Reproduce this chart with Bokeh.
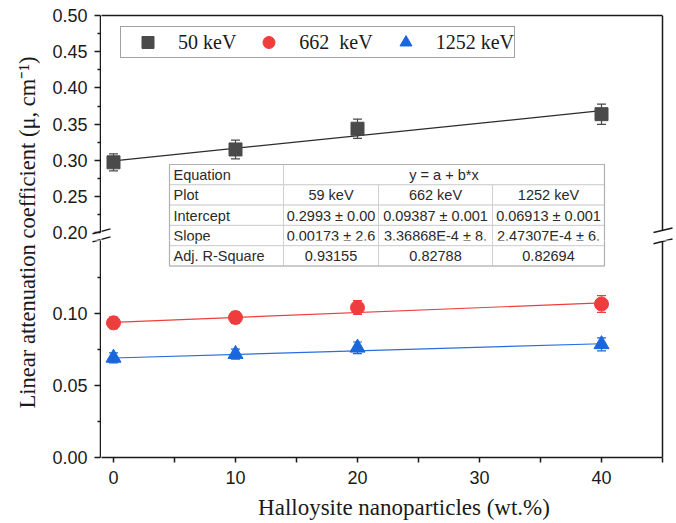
import math
from bokeh.plotting import figure
from bokeh.models import (Range1d, LinearAxis, FixedTicker, NumeralTickFormatter, Whisker,
                          TeeHead, ColumnDataSource, Legend, LegendItem)
from bokeh.core.properties import value
from bokeh.layouts import row, column
from bokeh.embed import file_html
from bokeh.resources import INLINE

# ---------------- data ----------------
x_wt = [0, 10, 20, 40]
mu_50 = [0.2972, 0.3150, 0.3436, 0.3637]
err_50 = [0.0118, 0.0130, 0.0133, 0.0140]
mu_662 = [0.0935, 0.0972, 0.1041, 0.1066]
err_662 = [0.0040, 0.0040, 0.0048, 0.0058]
mu_1252 = [0.0692, 0.0718, 0.0762, 0.0786]
err_1252 = [0.0035, 0.0035, 0.0040, 0.0045]

fit_x = [0, 40]
fit_50 = [0.2993, 0.3685]
fit_662 = [0.0939, 0.1074]
fit_1252 = [0.0691, 0.0790]

series_labels = ["50 keV", "662  keV", "1252 keV"]

x_ticks = [0, 10, 20, 30, 40]
x_minor = [5, 15, 25, 35, 45]
y_ticks_upper = [0.20, 0.25, 0.30, 0.35, 0.40, 0.45, 0.50]
y_minor_upper = [0.225, 0.275, 0.325, 0.375, 0.425, 0.475]
y_ticks_lower = [0.00, 0.05, 0.10]
y_minor_lower = [0.025, 0.075, 0.125]

x_label = "Halloysite nanoparticles (wt.%)"
y_label = "Linear attenuation coefficient (\u03bc, cm\u207b\u00b9)"

table_head = ["Equation", "y = a + b*x"]
table_names = ["Plot", "Intercept", "Slope", "Adj. R-Square"]
table_plot = ["59 keV", "662 keV", "1252 keV"]
table_intercept = ["0.2993 \u00b1 0.00", "0.09387 \u00b1 0.001", "0.06913 \u00b1 0.001"]
table_slope = ["0.00173 \u00b1 2.6", "3.36868E-4 \u00b1 8.", "2.47307E-4 \u00b1 6."]
table_r2 = ["0.93155", "0.82788", "0.82694"]

# ---------------- layout ----------------
W, H = 676, 523
TITLE_W = 40          # strip with the y-axis title
AXIS_PX = 100         # page x of the left axis line
STRIP_R = 101         # right edge of the y-axis strip
XL_H = 28             # strip with the x-axis title
X0_PX, PXU = 113.0, 12.2
AXIS_R_PX = 662
FRAME_T, BREAK_Y, FRAME_B = 15, 240, 457
LO_BOTTOM = H - XL_H
UP_END, UP_PX = 0.5, 724.0
UP_START = UP_END - (BREAK_Y - FRAME_T) / UP_PX
LO_PX = 1440.0
LO_END = (FRAME_B - BREAK_Y) / LO_PX

GRAY, RED, BLUE = "#4a4a4a", "#ef3d3d", "#1a66dd"
INK = "#1a1a1a"


def px_x(px):
    return (px - X0_PX) / PXU


def up_y(py):
    return UP_END - (py - FRAME_T) / UP_PX


def lo_y(py):
    return (FRAME_B - py) / LO_PX


def ident(v):
    return v


AX_L, AX_R = px_x(AXIS_PX), px_x(AXIS_R_PX)
up_range = Range1d(UP_START, UP_END)
lo_range = Range1d(0.0, LO_END)


def bare(p):
    p.outline_line_color = None
    p.grid.visible = False
    p.background_fill_color = "white"
    p.border_fill_color = "white"
    return p


def make_main(height, yr, top, bottom, with_x):
    p = figure(width=W - STRIP_R, height=height,
               x_range=Range1d(px_x(STRIP_R), px_x(W)), y_range=yr,
               output_backend="svg", toolbar_location=None,
               x_axis_location="below" if with_x else None, y_axis_location=None,
               min_border_left=0, min_border_right=0,
               min_border_top=top, min_border_bottom=bottom)
    return bare(p)


def make_strip(height, yr, top, bottom, ticks, minor):
    # narrow figure whose right edge carries the y axis; labels are pulled back inside
    p = figure(width=STRIP_R - TITLE_W, height=height,
               x_range=Range1d(TITLE_W, AXIS_PX), y_range=yr,
               output_backend="svg", toolbar_location=None,
               x_axis_location=None, y_axis_location="right",
               min_border_left=0, min_border_right=STRIP_R - AXIS_PX,
               min_border_top=top, min_border_bottom=bottom)
    bare(p)
    ax = p.yaxis[0]
    ax.ticker = FixedTicker(ticks=ticks, minor_ticks=minor)
    ax.formatter = NumeralTickFormatter(format="0.00")
    ax.axis_line_color = INK
    ax.axis_line_width = 1.5
    ax.major_tick_line_color = INK
    ax.minor_tick_line_color = INK
    ax.major_tick_line_width = 1.5
    ax.minor_tick_line_width = 1.5
    ax.major_tick_out = 0
    ax.major_tick_in = 6
    ax.minor_tick_out = 0
    ax.minor_tick_in = 3
    ax.major_label_text_font = "Liberation Sans"
    ax.major_label_text_font_size = "18px"
    ax.major_label_text_color = INK
    ax.major_label_standoff = -48
    return p


def line_axis(bounds=None):
    ax = LinearAxis(ticker=FixedTicker(ticks=[]), major_tick_out=0, major_tick_in=0,
                    minor_tick_out=0, minor_tick_in=0, major_label_standoff=0,
                    axis_line_color=INK, axis_line_width=1.5,
                    major_label_text_font_size="0px")
    if bounds is not None:
        ax.bounds = bounds
    return ax


# axis-break marks, page pixels ((x0, y0), (x1, y1)); each figure clips its own part
BREAK_MARKS = [((92, 233.2), (110, 228.4)), ((92, 241.2), (110, 236.4)),
               ((653, 232.0), (672, 227.4)), ((653, 243.2), (672, 238.4))]


def break_marks(p, xmap, ymap):
    p.segment(x0=[xmap(a[0]) for a, b in BREAK_MARKS], y0=[ymap(a[1]) for a, b in BREAK_MARKS],
              x1=[xmap(b[0]) for a, b in BREAK_MARKS], y1=[ymap(b[1]) for a, b in BREAK_MARKS],
              line_color=INK, line_width=1.5)


def frame_right(p, y0, y1):
    p.segment(x0=[AX_R], y0=[y0], x1=[AX_R], y1=[y1], line_color=INK, line_width=1.5)


def draw_table(p, ymap):
    cols = [169, 283, 378, 492, 604]
    rows = [164 + i * 20.3 for i in range(6)]
    L, R, T, B = [], [], [], []
    L += [cols[0], cols[1]]
    R += [cols[1], cols[4]]
    T += [ymap(rows[0])] * 2
    B += [ymap(rows[1])] * 2
    for r in range(1, 5):
        for c in range(4):
            L.append(cols[c]); R.append(cols[c + 1])
            T.append(ymap(rows[r])); B.append(ymap(rows[r + 1]))
    p.quad(left=[px_x(v) for v in L], right=[px_x(v) for v in R], top=T, bottom=B,
           fill_color="white", line_color="#cfcfcf", line_width=1)
    p.quad(left=[px_x(cols[0])], right=[px_x(cols[4])], top=[ymap(rows[0])],
           bottom=[ymap(rows[5])], fill_color=None, line_color="#b0b0b0", line_width=1.2)
    mids = [(rows[i] + rows[i + 1]) / 2 + 0.5 for i in range(5)]
    p.text(x=[px_x(cols[0] + 4)] * 5, y=[ymap(m) for m in mids],
           text=[table_head[0]] + table_names,
           text_font=value("Liberation Sans"), text_font_size="14.5px", text_color="#2a2a2a",
           text_align="left", text_baseline="middle")
    cx, cy, ct = [px_x((cols[1] + cols[4]) / 2)], [ymap(mids[0])], [table_head[1]]
    for r, vals in enumerate([table_plot, table_intercept, table_slope, table_r2], start=1):
        for c in range(3):
            cx.append(px_x((cols[c + 1] + cols[c + 2]) / 2))
            cy.append(ymap(mids[r]))
            ct.append(vals[c])
    p.text(x=cx, y=cy, text=ct, text_font=value("Liberation Sans"), text_font_size="14.5px",
           text_color="#2a2a2a", text_align="center", text_baseline="middle")


def add_series(p, y, err, fit, color, line_color, marker, size):
    p.line(fit_x, fit, color=line_color, line_width=1.2)
    src = ColumnDataSource(dict(x=x_wt, upper=[a + e for a, e in zip(y, err)],
                                lower=[a - e for a, e in zip(y, err)]))
    p.add_layout(Whisker(source=src, base="x", upper="upper", lower="lower",
                         dimension="height", line_color=color, line_width=1.2,
                         upper_head=TeeHead(size=9, line_color=color, line_width=1.2),
                         lower_head=TeeHead(size=9, line_color=color, line_width=1.2)))
    return p.scatter(x_wt, y, marker=marker, size=size, fill_color=color, line_color=color)


# ---------------- upper panel ----------------
ax_up = make_strip(BREAK_Y, up_range, FRAME_T, 0, y_ticks_upper, y_minor_upper)
ax_up.yaxis[0].bounds = (0.2, 0.5)
break_marks(ax_up, ident, up_y)

p_up = make_main(BREAK_Y, up_range, FRAME_T, 0, False)
p_up.add_layout(line_axis((AX_L, AX_R)), "above")
frame_right(p_up, up_y(229.8), UP_END)
draw_table(p_up, up_y)
r50 = add_series(p_up, mu_50, err_50, fit_50, GRAY, "#2b2b2b", "square", 13)
# legend proxies (their values lie outside this panel's range, so they stay hidden)
proxy_662 = p_up.scatter(x_wt, mu_662, marker="circle", size=14, fill_color=RED, line_color=RED)
proxy_1252 = p_up.scatter(x_wt, mu_1252, marker="triangle", size=15, fill_color=BLUE, line_color=BLUE)
legend = Legend(items=[LegendItem(label=series_labels[0], renderers=[r50]),
                       LegendItem(label=series_labels[1], renderers=[proxy_662]),
                       LegendItem(label=series_labels[2], renderers=[proxy_1252])],
                orientation="horizontal", location=(120 - STRIP_R, BREAK_Y - 58),
                padding=0, margin=0,
                glyph_width=53, glyph_height=30, label_standoff=4, spacing=6,
                border_line_color="#444444", border_line_width=1,
                background_fill_color="white", background_fill_alpha=1,
                label_text_font="Liberation Serif", label_text_font_size="20px",
                label_text_color=INK)
p_up.add_layout(legend)
break_marks(p_up, px_x, up_y)

# ---------------- lower panel ----------------
ax_lo = make_strip(LO_BOTTOM - BREAK_Y, lo_range, 0, LO_BOTTOM - FRAME_B,
                   y_ticks_lower, y_minor_lower)
ax_lo.yaxis[0].bounds = (0.0, lo_y(238.8))
break_marks(ax_lo, ident, lo_y)

p_lo = make_main(LO_BOTTOM - BREAK_Y, lo_range, 0, LO_BOTTOM - FRAME_B, True)
xa = p_lo.xaxis[0]
xa.ticker = FixedTicker(ticks=x_ticks, minor_ticks=x_minor)
xa.bounds = (AX_L, AX_R)
xa.axis_line_color = INK
xa.axis_line_width = 1.5
xa.major_tick_line_color = INK
xa.minor_tick_line_color = INK
xa.major_tick_line_width = 1.5
xa.minor_tick_line_width = 1.5
xa.major_tick_out = 5
xa.major_tick_in = 0
xa.minor_tick_out = 5
xa.minor_tick_in = 0
xa.major_label_text_font = "Liberation Sans"
xa.major_label_text_font_size = "18px"
xa.major_label_text_color = INK
xa.major_label_standoff = 8
frame_right(p_lo, 0.0, lo_y(240.8))
draw_table(p_lo, lo_y)
add_series(p_lo, mu_662, err_662, fit_662, RED, RED, "circle", 14)
add_series(p_lo, mu_1252, err_1252, fit_1252, BLUE, "#2a6de0", "triangle", 15)
break_marks(p_lo, px_x, lo_y)

# ---------------- x title strip ----------------
p_xl = bare(figure(width=W - TITLE_W, height=XL_H, x_range=Range1d(TITLE_W, W),
                   y_range=Range1d(0, XL_H), output_backend="svg", toolbar_location=None,
                   min_border=0, x_axis_location=None, y_axis_location=None))
p_xl.text(x=[403.5], y=[H - 507], text=[x_label],
          text_font=value("Liberation Serif"), text_font_size="23px", text_color=INK,
          text_align="center", text_baseline="middle")

# ---------------- y title strip ----------------
p_yl = bare(figure(width=TITLE_W, height=H, x_range=Range1d(0, TITLE_W), y_range=Range1d(0, H),
                   output_backend="svg", toolbar_location=None, min_border=0,
                   x_axis_location=None, y_axis_location=None))
p_yl.text(x=[26.5], y=[H - 232], text=[y_label], angle=math.pi / 2,
          text_font=value("Liberation Serif"), text_font_size="22.5px", text_color=INK,
          text_align="center", text_baseline="middle")

layout = row(p_yl, column(row(ax_up, p_up), row(ax_lo, p_lo), p_xl))
open("out.html", "w").write(file_html(layout, INLINE))
